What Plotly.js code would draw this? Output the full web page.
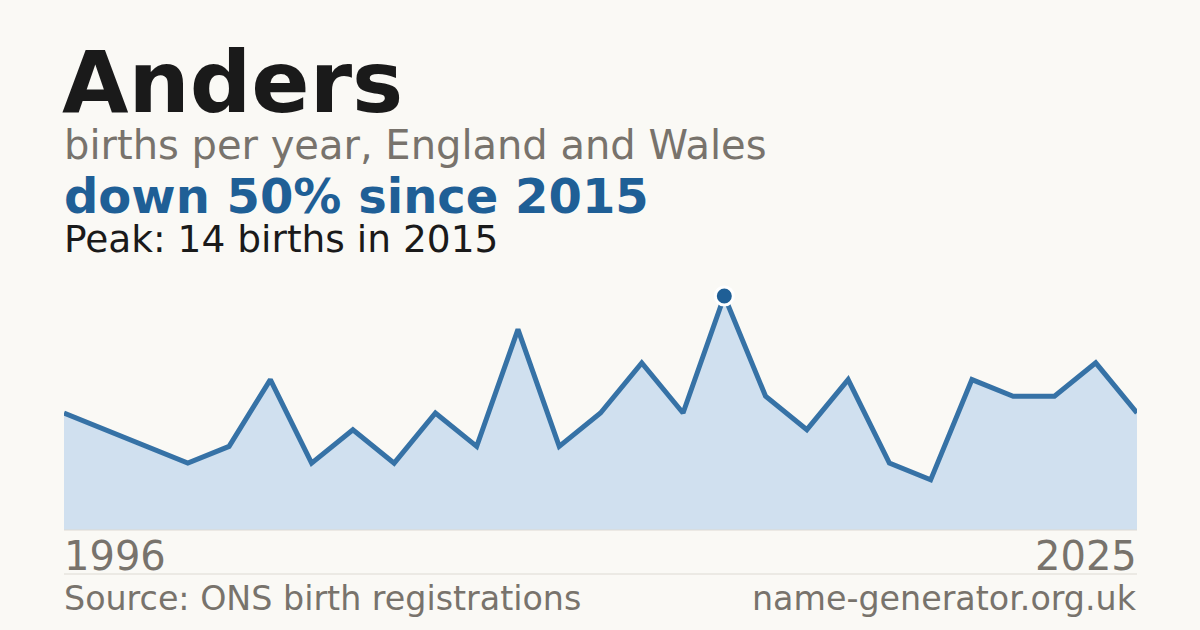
<!DOCTYPE html>
<html>
<head>
<meta charset="utf-8">
<script src="https://cdn.plot.ly/plotly-3.0.1.min.js"></script>
<style>
  html, body { margin: 0; padding: 0; background: #faf9f5; }
  #chart { width: 1200px; height: 630px; }
</style>
</head>
<body>
<div id="chart"></div>
<script>
// births per year, years with too few births are not in the series
years = ["1996","1997","1998","1999","2000","2002","2003","2005","2006","2007",
         "2008","2010","2011","2012","2013","2014","2015","2016","2017","2018",
         "2019","2020","2021","2022","2023","2024","2025"];
births = [7, 6, 5, 4, 5, 9, 4, 6, 4, 7,
          5, 12, 5, 7, 10, 7, 14, 8, 6, 9,
          4, 3, 9, 8, 8, 10, 7];

peakYear = "2015";
peakValue = 14;

titleText = "Anders";
subText = "births per year, England and Wales";
changeText = "down 50% since 2015";
peakText = "Peak: 14 births in 2015";
sourceText = "Source: ONS birth registrations";
siteText = "name-generator.org.uk";

gray = "#78736c";
blue = "#1f5f96";

// helper: pixel row -> paper y (plot runs from y=296 to y=530)
function py(p){
    return (530 - p) / 234;
}

function label(txt, x, y, size, color, bold, anchor){
    return {
        text: bold ? "<b>" + txt + "</b>" : txt,
        xref: "paper", yref: "paper",
        x: x, y: py(y),
        xanchor: anchor, yanchor: "middle",
        showarrow: false,
        font: {family: "DejaVu Sans", size: size, color: color}
    };
}

function makeChart(){
    var area = {
        x: years,
        y: births,
        type: "scatter",
        mode: "lines",
        fill: "tozeroy",
        fillcolor: "#d0e0ef",
        line: {color: "#3672a6", width: 5},
        hoverinfo: "skip"
    };
    var peak = {
        x: [peakYear],
        y: [peakValue],
        type: "scatter",
        mode: "markers",
        marker: {color: blue, size: 18, line: {color: "#ffffff", width: 3}},
        cliponaxis: false,
        hoverinfo: "skip"
    };
    var layout = {
        width: 1200,
        height: 630,
        paper_bgcolor: "#faf9f5",
        plot_bgcolor: "#faf9f5",
        showlegend: false,
        margin: {l: 64, r: 63, t: 296, b: 100},
        xaxis: {type: "category", showgrid: false, zeroline: false, showticklabels: false,
                showline: false, range: [0, years.length - 1], fixedrange: true},
        yaxis: {showgrid: false, zeroline: false, showticklabels: false,
                showline: false, range: [0, 14], fixedrange: true},
        shapes: [
            {type: "line", xref: "paper", yref: "paper", x0: 0, x1: 1, y0: 0, y1: 0,
             line: {color: "#dddad3", width: 1}},
            {type: "line", xref: "paper", yref: "paper", x0: 0, x1: 1, y0: py(574), y1: py(574),
             line: {color: "#dddad3", width: 1}}
        ],
        annotations: [
            label(titleText, -0.004, 82, 86, "#1a1a1a", true, "left"),
            label(subText, -0.002, 145, 40, gray, false, "left"),
            label(changeText, -0.002, 196, 48, blue, true, "left"),
            label(peakText, -0.002, 239, 37.5, "#1a1a1a", false, "left"),
            label(years[0], -0.002, 556, 40, gray, false, "left"),
            label(years[years.length - 1], 1.002, 556, 40, gray, false, "right"),
            label(sourceText, -0.002, 598, 33.3, gray, false, "left"),
            label(siteText, 1.002, 598, 33.3, gray, false, "right")
        ]
    };
    Plotly.newPlot("chart", [area, peak], layout, {staticPlot: true});
}

makeChart();
</script>
</body>
</html>
